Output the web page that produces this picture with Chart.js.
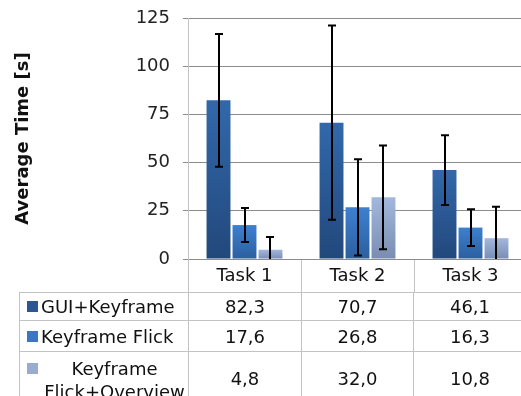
<!DOCTYPE html>
<html>
<head>
<meta charset="utf-8">
<script src="https://cdn.jsdelivr.net/npm/chart.js@4.4.0/dist/chart.umd.min.js"></script>
<style>
  html, body { margin: 0; padding: 0; background: #fff; overflow: hidden; width: 521px; height: 396px; }
  #wrap { position: relative; width: 530px; height: 396px; }
  #chartBox { position: absolute; left: 0; top: 0; }
  #dataTable {
    position: absolute; left: 19px; top: 292px;
    border-collapse: collapse; table-layout: fixed;
    font-family: "DejaVu Sans", Verdana, sans-serif; font-size: 18px; color: #111;
  }
  #dataTable td { border: 1px solid #c3c3c3; padding: 0; text-align: center; vertical-align: middle; }
  #dataTable td.name { text-align: left; }
  .nm { display: flex; align-items: center; padding-left: 7px; }
  .nm.wrapped { align-items: flex-start; line-height: 23px; padding-top: 5px; }
  .key { flex: none; width: 11px; height: 11px; margin-right: 3px; }
  .nm.wrapped .key { margin-top: 6px; }
  .lbl { flex: 1; white-space: nowrap; }
  .nm.wrapped .lbl { white-space: normal; text-align: center; }
</style>
</head>
<body>
<div id="wrap">
  <canvas id="chartBox" width="530" height="293"></canvas>
  <table id="dataTable"></table>
</div>
<script>
const tasks = ['Task 1', 'Task 2', 'Task 3'];
const seriesNames = ['GUI+Keyframe', 'Keyframe Flick', 'Keyframe Flick+Overview'];
const guiKeyframe = [82.3, 70.7, 46.1];
const keyframeFlick = [17.6, 26.8, 16.3];
const flickOverview = [4.8, 32.0, 10.8];
const guiKeyframeErr = [34.4, 50.4, 18.1];
const keyframeFlickErr = [8.8, 25.0, 9.5];
const flickOverviewErr = [6.6, 26.9, 16.3];

const FONT = '"DejaVu Sans", Verdana, sans-serif';

// top / bottom of each bar gradient, and the key swatch in the table
const barColors = [
  { top: '#3268ab', bottom: '#22487b', key: '#2b5892' },
  { top: '#3d80d0', bottom: '#2c5f9f', key: '#3a76c2' },
  { top: '#a3b8de', bottom: '#7a8cb1', key: '#98acd1' }
];

function barGradient(idx) {
  return function (c) {
    const ys = c.chart.scales.y;
    if (!c.parsed || !ys) return barColors[idx].top;
    const yTop = ys.getPixelForValue(c.parsed.y);
    const yBase = ys.getPixelForValue(0);
    if (!isFinite(yTop) || yBase - yTop < 1) return barColors[idx].top;
    const g = c.chart.ctx.createLinearGradient(0, yTop, 0, yBase);
    g.addColorStop(0, barColors[idx].top);
    g.addColorStop(1, barColors[idx].bottom);
    return g;
  };
}

const errorBars = {
  id: 'errorBars',
  afterDatasetsDraw(chart) {
    const ctx = chart.ctx;
    const ys = chart.scales.y;
    const area = chart.chartArea;
    ctx.save();
    ctx.beginPath();
    ctx.rect(area.left, area.top - 5, area.right - area.left, area.bottom - area.top + 5);
    ctx.clip();
    ctx.strokeStyle = '#000';
    ctx.lineWidth = 2;
    chart.data.datasets.forEach((ds, i) => {
      const meta = chart.getDatasetMeta(i);
      meta.data.forEach((bar, j) => {
        const v = ds.data[j], e = ds.errors[j];
        const hi = ys.getPixelForValue(v + e);
        const low = Math.max(0, v - e);
        const lo = ys.getPixelForValue(low);
        const x = Math.round(bar.x);
        ctx.beginPath();
        ctx.moveTo(x, hi); ctx.lineTo(x, lo);
        ctx.moveTo(x - 4, hi); ctx.lineTo(x + 4, hi);
        if (low > 0) { ctx.moveTo(x - 4, lo); ctx.lineTo(x + 4, lo); }
        ctx.stroke();
      });
    });
    ctx.restore();
  }
};

new Chart(document.getElementById('chartBox').getContext('2d'), {
  type: 'bar',
  data: {
    labels: tasks,
    datasets: [
      { label: seriesNames[0], data: guiKeyframe, errors: guiKeyframeErr, backgroundColor: barGradient(0) },
      { label: seriesNames[1], data: keyframeFlick, errors: keyframeFlickErr, backgroundColor: barGradient(1) },
      { label: seriesNames[2], data: flickOverview, errors: flickOverviewErr, backgroundColor: barGradient(2) }
    ]
  },
  options: {
    responsive: false,
    animation: false,
    categoryPercentage: 0.69,
    barPercentage: 0.92,
    layout: { padding: { top: 18, right: 3, left: 0, bottom: 0 } },
    plugins: { legend: { display: false }, tooltip: { enabled: false } },
    scales: {
      x: {
        grid: { display: true, drawOnChartArea: false, offset: true, tickLength: 34, color: '#c3c3c3' },
        border: { color: '#8c8c8c' },
        ticks: { padding: -27, color: '#111', font: { family: FONT, size: 18 } },
        afterFit: s => { s.height = 34; }
      },
      y: {
        min: 0, max: 125,
        ticks: { stepSize: 25, padding: 13, color: '#222', font: { family: FONT, size: 18 } },
        grid: { color: '#8c8c8c', tickLength: 5, tickColor: '#8c8c8c' },
        border: { color: '#c3c3c3' },
        title: {
          display: true, text: 'Average Time [s]', color: '#111',
          font: { family: FONT, size: 18, weight: 'bold' },
          padding: { top: 13, bottom: 0 }
        },
        afterFit: s => { s.width = 188; s.paddingTop = 0; s.paddingBottom = 0; }
      }
    }
  },
  plugins: [errorBars]
});

// data table under the chart
const table = document.getElementById('dataTable');
const colg = document.createElement('colgroup');
[169, 113, 112, 113].forEach(w => {
  const c = document.createElement('col');
  c.style.width = w + 'px';
  colg.appendChild(c);
});
table.appendChild(colg);
const rowHeights = [28, 31, 54];
[guiKeyframe, keyframeFlick, flickOverview].forEach((vals, i) => {
  const tr = document.createElement('tr');
  tr.style.height = rowHeights[i] + 'px';
  const name = document.createElement('td');
  name.className = 'name';
  const wrapped = seriesNames[i].length > 16;
  name.innerHTML = '<div class="nm' + (wrapped ? ' wrapped' : '') + '"><span class="key" style="background:' +
    barColors[i].key + '"></span><span class="lbl">' + seriesNames[i] + '</span></div>';
  if (wrapped) name.style.verticalAlign = 'top';
  tr.appendChild(name);
  vals.forEach(v => {
    const td = document.createElement('td');
    td.textContent = v.toFixed(1).replace('.', ',');
    tr.appendChild(td);
  });
  table.appendChild(tr);
});
</script>
</body>
</html>
